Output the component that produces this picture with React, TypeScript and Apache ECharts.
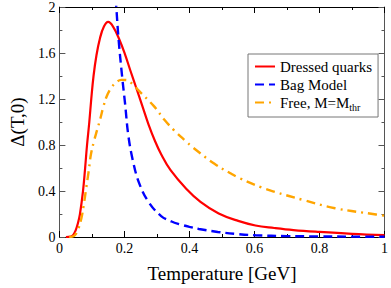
import React, { useEffect, useRef } from "react";
import * as echarts from "echarts";

// Axis ranges / ticks
const xMin = 0;
const xMax = 1;
const xStep = 0.2;
const yMin = 0;
const yMax = 2;
const yStep = 0.4;

// Series names
const nameDressed = "Dressed quarks";
const nameBag = "Bag Model";
const nameFree = "Free, M=Mthr";

// Dressed quarks (red solid)
const dressedT = [0.02, 0.035, 0.042, 0.05, 0.057, 0.063, 0.0725, 0.079, 0.085, 0.092, 0.098, 0.105, 0.114, 0.125, 0.137, 0.15, 0.165, 0.184, 0.201, 0.218, 0.236, 0.255, 0.274, 0.294, 0.313, 0.342, 0.39, 0.434, 0.49, 0.55, 0.603, 0.661, 0.72, 0.8, 0.9, 1.0];
const dressedV = [0, 0.004, 0.015, 0.058, 0.12, 0.196, 0.397, 0.595, 0.8, 1.0, 1.2, 1.4, 1.58, 1.73, 1.83, 1.87, 1.83, 1.72, 1.595, 1.45, 1.3, 1.14, 0.98, 0.835, 0.72, 0.581, 0.42, 0.306, 0.205, 0.14, 0.1, 0.078, 0.06, 0.044, 0.028, 0.017];

// Bag Model (blue dashed)
const bagT = [0.17, 0.175, 0.182, 0.193, 0.202, 0.212, 0.226, 0.245, 0.274, 0.313, 0.345, 0.371, 0.4, 0.429, 0.487, 0.55, 0.603, 0.7, 0.8, 0.9, 1.0];
const bagV = [2.2, 2.0, 1.72, 1.394, 1.16, 0.884, 0.664, 0.471, 0.306, 0.182, 0.135, 0.11, 0.088, 0.07, 0.044, 0.025, 0.015, 0.008, 0.005, 0.003, 0.002];

// Free, M=Mthr (orange dash-dot)
const freeT = [0.03, 0.04, 0.048, 0.058, 0.068, 0.075, 0.082, 0.09, 0.097, 0.107, 0.116, 0.126, 0.135, 0.145, 0.16, 0.175, 0.19, 0.205, 0.225, 0.245, 0.29, 0.323, 0.352, 0.39, 0.41, 0.477, 0.526, 0.554, 0.622, 0.66, 0.752, 0.848, 0.974, 1.0];
const freeV = [0, 0.003, 0.017, 0.07, 0.168, 0.28, 0.416, 0.57, 0.719, 0.84, 0.93, 1.03, 1.13, 1.22, 1.3, 1.345, 1.366, 1.365, 1.33, 1.27, 1.14, 1.02, 0.93, 0.83, 0.78, 0.636, 0.554, 0.512, 0.43, 0.395, 0.32, 0.25, 0.196, 0.185];

const pairs = (xs: number[], ys: number[]) => xs.map((x, i) => [x, ys[i]]);

const FONT = "Liberation Serif";

export default function App() {
  const ref = useRef<HTMLDivElement>(null);
  useEffect(() => {
    if (!ref.current) return;
    const chart = echarts.init(ref.current, undefined, { renderer: "svg" });
    const xBase = {
      type: "value" as const,
      min: xMin,
      max: xMax,
      interval: xStep,
      splitLine: { show: false },
      minorTick: { show: true, splitNumber: 2, length: 3, lineStyle: { color: "#000" } },
      axisTick: { show: true, inside: true, length: 6, lineStyle: { color: "#000" } },
      axisLine: { show: true, onZero: false, lineStyle: { color: "#000", width: 1 } },
    };
    const yBase = {
      type: "value" as const,
      min: yMin,
      max: yMax,
      interval: yStep,
      splitLine: { show: false },
      minorTick: { show: true, splitNumber: 2, length: 3, lineStyle: { color: "#555" } },
      axisTick: { show: true, inside: true, length: 6, lineStyle: { color: "#555" } },
      axisLine: { show: true, onZero: false, lineStyle: { color: "#555", width: 1 } },
    };
    const lineSeries = (name: string, xs: number[], ys: number[], color: string, width: number, type: any) => ({
      name,
      type: "line",
      data: pairs(xs, ys),
      showSymbol: false,
      symbol: "circle",
      smooth: 0.4,
      clip: true,
      lineStyle: { color, width, type },
      itemStyle: { color },
    });
    chart.setOption({
      animation: false,
      backgroundColor: "#fff",
      grid: { left: 42, right: 4, top: 5, bottom: 41, containLabel: false },
      xAxis: [
        {
          ...xBase,
          position: "bottom",
          name: "Temperature [GeV]",
          nameLocation: "middle",
          nameGap: 27,
          nameTextStyle: { fontFamily: FONT, fontSize: 19, color: "#000" },
          axisLabel: { fontFamily: FONT, fontSize: 14, color: "#000", margin: 4 },
        },
        { ...xBase, position: "top", axisLabel: { show: false } },
      ],
      yAxis: [
        {
          ...yBase,
          position: "left",
          name: "Δ(T,0)",
          nameLocation: "middle",
          nameGap: 28,
          nameRotate: 90,
          nameTextStyle: { fontFamily: FONT, fontSize: 19, color: "#000" },
          axisLabel: { fontFamily: FONT, fontSize: 14, color: "#000", margin: 4 },
        },
        { ...yBase, position: "right", axisLabel: { show: false } },
      ],
      legend: {
        orient: "vertical",
        left: 248,
        top: 54,
        padding: [5, 6, 5, 6],
        itemGap: 3,
        itemWidth: 20,
        itemHeight: 14,
        borderColor: "#777",
        borderWidth: 1,
        borderRadius: 0,
        backgroundColor: "#fff",
        itemStyle: { opacity: 0 },
        data: [nameDressed, nameBag, nameFree],
        formatter: (n: string) => (n === nameFree ? "{m|Free, M=M}{s|thr}" : n),
        textStyle: {
          fontFamily: FONT,
          fontSize: 15,
          color: "#000",
          rich: {
            m: { fontFamily: FONT, fontSize: 15, color: "#000" },
            s: { fontFamily: FONT, fontSize: 10, color: "#000", padding: [9, 0, 0, 0] },
          },
        },
      },
      series: [
        lineSeries(nameDressed, dressedT, dressedV, "#ff0000", 2.2, "solid"),
        lineSeries(nameBag, bagT, bagV, "#0000ff", 2.4, [9, 5]),
        lineSeries(nameFree, freeT, freeV, "#ffa500", 2.4, [9, 5, 2, 5]),
      ],
    });
    return () => chart.dispose();
  }, []);
  return <div ref={ref} style={{ width: 391, height: 288, position: "absolute", left: 0, top: 0 }} />;
}
